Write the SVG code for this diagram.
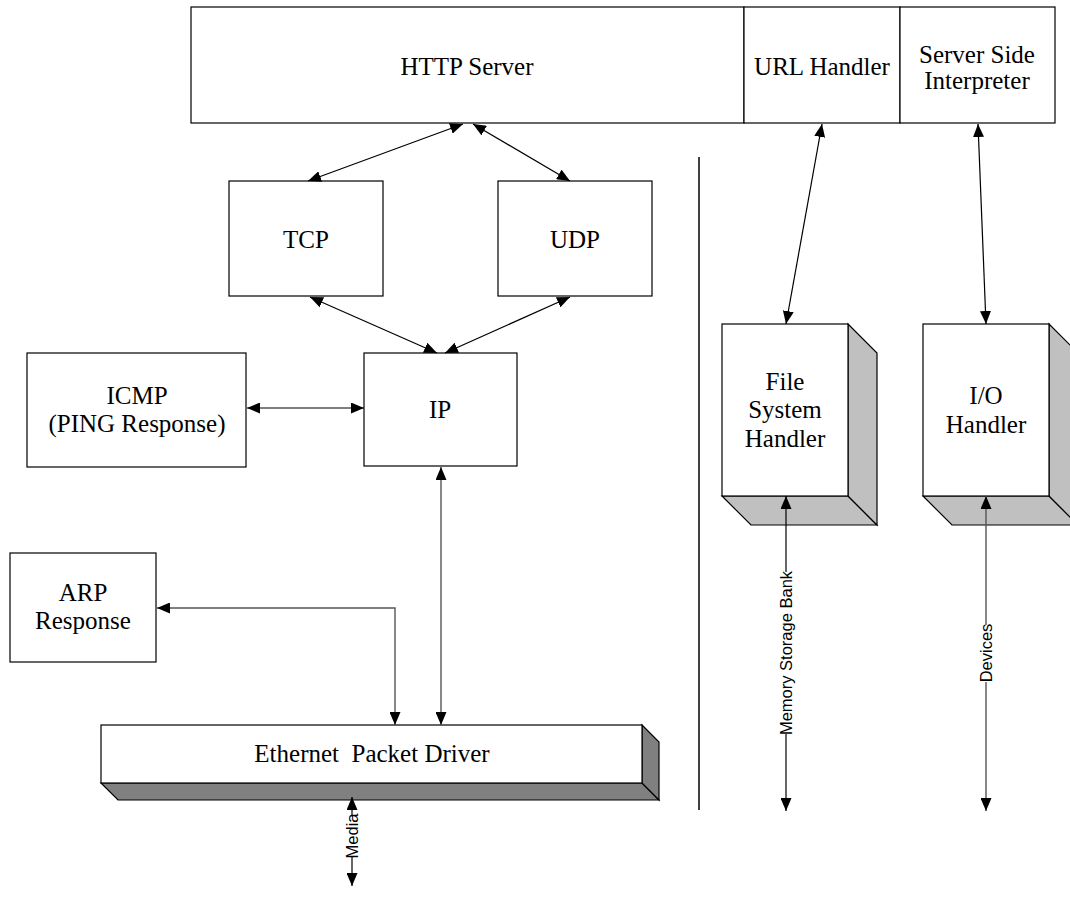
<svg xmlns="http://www.w3.org/2000/svg" width="1070" height="897" viewBox="0 0 1070 897">
  <style>
    .box { fill: #ffffff; stroke: #000000; stroke-width: 1.2; }
    .side-light { fill: #c0c0c0; stroke: #000000; stroke-width: 1.2; }
    .side-dark { fill: #808080; stroke: #000000; stroke-width: 1.2; }
    .lbl { font-family: "Liberation Serif", "Times New Roman", serif; font-size: 25px; fill: #000000; text-anchor: middle; }
    .tag { font-family: "Liberation Sans", Arial, sans-serif; font-size: 16.5px; fill: #000000; text-anchor: middle; dominant-baseline: central; }
    .wire { fill: none; stroke: #000000; stroke-width: 1.2; }
    .wire-grey { fill: none; stroke: #555555; stroke-width: 1.4; }
    .sep { stroke: #000000; stroke-width: 1.5; }
  </style>
  <defs>
    <marker id="head" viewBox="0 0 13 11" refX="13" refY="5.5" markerWidth="13" markerHeight="11" markerUnits="userSpaceOnUse" orient="auto-start-reverse">
      <path d="M0,0 L13,5.5 L0,11 Z" fill="#000000"/>
    </marker>
  </defs>

  <rect width="1070" height="897" fill="#ffffff"/>

  <!-- Top bar: HTTP server with URL handler and interpreter -->
  <g id="http-server">
    <rect class="box" x="191" y="7" width="553" height="116"/>
    <text class="lbl" x="467" y="75">HTTP Server</text>
  </g>
  <g id="url-handler">
    <rect class="box" x="744" y="7" width="156" height="116"/>
    <text class="lbl" x="822" y="75">URL Handler</text>
  </g>
  <g id="server-side-interpreter">
    <rect class="box" x="900" y="7" width="155" height="116"/>
    <text class="lbl" x="977" y="63">Server Side</text>
    <text class="lbl" x="977" y="89">Interpreter</text>
  </g>

  <!-- Protocol stack -->
  <g id="tcp">
    <rect class="box" x="229" y="181" width="154" height="115"/>
    <text class="lbl" x="306" y="248">TCP</text>
  </g>
  <g id="udp">
    <rect class="box" x="498" y="181" width="154" height="115"/>
    <text class="lbl" x="575" y="248">UDP</text>
  </g>
  <g id="ip">
    <rect class="box" x="364" y="353" width="153" height="113"/>
    <text class="lbl" x="440" y="418">IP</text>
  </g>
  <g id="icmp">
    <rect class="box" x="27" y="353" width="219" height="114"/>
    <text class="lbl" x="137" y="404">ICMP</text>
    <text class="lbl" x="137" y="432">(PING Response)</text>
  </g>
  <g id="arp">
    <rect class="box" x="10" y="553" width="146" height="109"/>
    <text class="lbl" x="83" y="601">ARP</text>
    <text class="lbl" x="83" y="629">Response</text>
  </g>

  <!-- Ethernet driver bar with depth -->
  <g id="ethernet-driver">
    <path class="side-dark" d="M101,783 L118,800 L659,800 L642,783 Z"/>
    <path class="side-dark" d="M642,725 L659,742 L659,800 L642,783 Z"/>
    <rect class="box" x="101" y="725" width="541" height="58"/>
    <text class="lbl" x="372" y="762" xml:space="preserve">Ethernet  Packet Driver</text>
  </g>

  <!-- Application-side handlers -->
  <g id="file-system-handler">
    <path class="side-light" d="M722,496 L751,525 L877,525 L848,496 Z"/>
    <path class="side-light" d="M848,324 L877,353 L877,525 L848,496 Z"/>
    <rect class="box" x="722" y="324" width="126" height="172"/>
    <text class="lbl" x="785" y="390">File</text>
    <text class="lbl" x="785" y="418">System</text>
    <text class="lbl" x="785" y="447">Handler</text>
  </g>
  <g id="io-handler">
    <path class="side-light" d="M923,496 L952,525 L1078,525 L1049,496 Z"/>
    <path class="side-light" d="M1049,324 L1078,353 L1078,525 L1049,496 Z"/>
    <rect class="box" x="923" y="324" width="126" height="172"/>
    <text class="lbl" x="986" y="404">I/O</text>
    <text class="lbl" x="986" y="433">Handler</text>
  </g>

  <!-- Connectors -->
  <g id="connectors">
    <line class="sep" x1="699" y1="157" x2="699" y2="810"/>

    <line class="wire" x1="463" y1="124" x2="308" y2="181" marker-start="url(#head)" marker-end="url(#head)"/>
    <line class="wire" x1="473" y1="124" x2="570" y2="181" marker-start="url(#head)" marker-end="url(#head)"/>
    <line class="wire" x1="310" y1="297" x2="437" y2="353" marker-start="url(#head)" marker-end="url(#head)"/>
    <line class="wire" x1="570" y1="297" x2="445" y2="353" marker-start="url(#head)" marker-end="url(#head)"/>
    <line class="wire" x1="247" y1="408" x2="364" y2="408" marker-start="url(#head)" marker-end="url(#head)"/>

    <line class="wire-grey" x1="441" y1="467" x2="441" y2="725" marker-start="url(#head)" marker-end="url(#head)"/>
    <polyline class="wire-grey" points="157,608 395,608 395,725" marker-start="url(#head)" marker-end="url(#head)"/>

    <line class="wire" x1="822" y1="124" x2="786" y2="324" marker-start="url(#head)" marker-end="url(#head)"/>
    <line class="wire" x1="978" y1="124" x2="986" y2="324" marker-start="url(#head)" marker-end="url(#head)"/>

    <!-- External links, labelled along the line -->
    <line class="wire" x1="786" y1="496" x2="786" y2="572" marker-start="url(#head)"/>
    <line class="wire" x1="786" y1="734" x2="786" y2="811" marker-end="url(#head)"/>
    <text class="tag" transform="translate(786,653) rotate(-90)">Memory Storage Bank</text>

    <line class="wire-grey" x1="986" y1="496" x2="986" y2="625" marker-start="url(#head)"/>
    <line class="wire-grey" x1="986" y1="682" x2="986" y2="811" marker-end="url(#head)"/>
    <text class="tag" transform="translate(986,653) rotate(-90)">Devices</text>

    <line class="wire" x1="352" y1="797" x2="352" y2="815" marker-start="url(#head)"/>
    <line class="wire" x1="352" y1="856" x2="352" y2="886" marker-end="url(#head)"/>
    <text class="tag" transform="translate(352,836) rotate(-90)">Media</text>
  </g>
</svg>
